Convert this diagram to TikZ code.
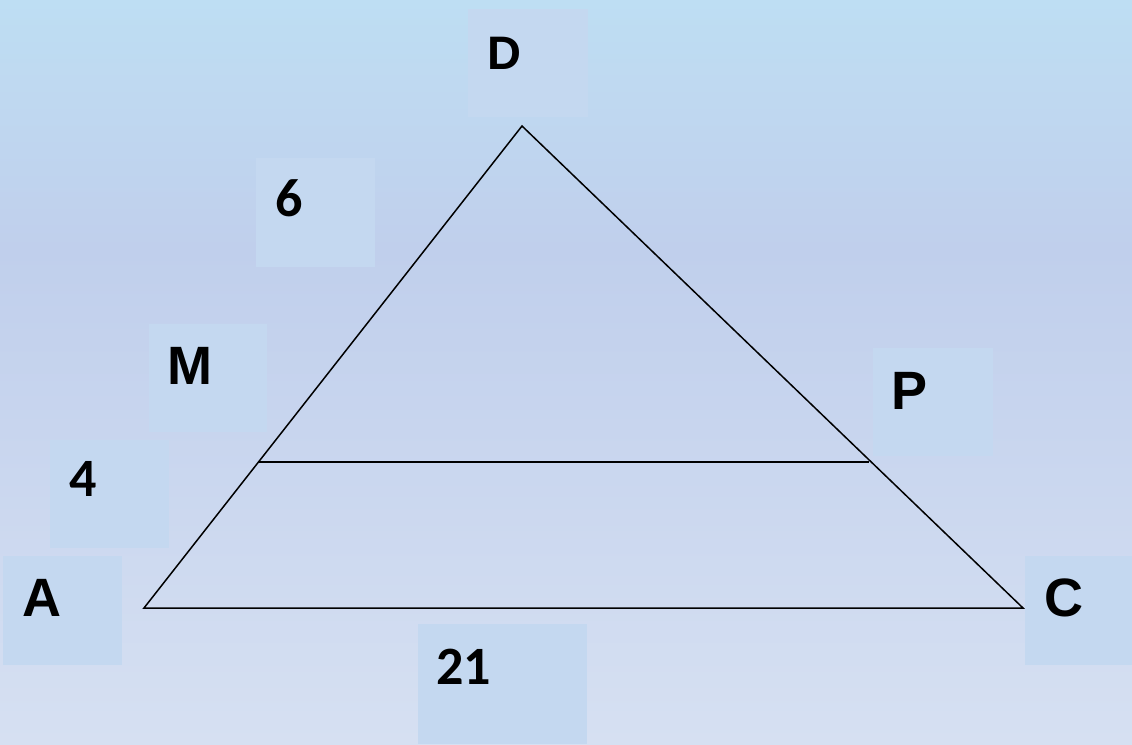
\documentclass[tikz,border=0pt]{standalone}
\usepackage{fontspec}
\newfontfamily\letterfont{Liberation Sans}
\newfontfamily\numfont{Carlito}
\definecolor{bgtop}{RGB}{190,222,243}
\definecolor{bgmid}{RGB}{192,207,236}
\definecolor{bgbot}{RGB}{214,224,242}
\definecolor{boxfill}{RGB}{196,216,240}
\begin{document}
\begin{tikzpicture}[x=1pt,y=-1pt,
  lbox/.style={fill=boxfill,draw=none,inner sep=0pt,anchor=north west},
  lett/.style={font=\letterfont\bfseries\fontsize{54}{54}\selectfont,anchor=base west,inner sep=0pt},
  numb/.style={font=\numfont\bfseries\fontsize{54}{54}\selectfont,anchor=base west,inner sep=0pt},
  edge/.style={draw=black,line width=1.5pt,line join=miter}]
\useasboundingbox (0,0) rectangle (1132,744);
\shade[top color=bgtop,bottom color=bgmid] (0,0) rectangle (1132,250);
\shade[top color=bgmid,bottom color=bgbot] (0,249.5) rectangle (1132,744);
% label boxes
\node[lbox,minimum width=120pt,minimum height=108pt] (bD) at (468,9) {};
\node[lbox,minimum width=119pt,minimum height=109pt] (b6) at (256,158) {};
\node[lbox,minimum width=118pt,minimum height=108pt] (bM) at (149,324) {};
\node[lbox,minimum width=120pt,minimum height=108pt] (bP) at (873,348) {};
\node[lbox,minimum width=119pt,minimum height=108pt] (b4) at (50,440) {};
\node[lbox,minimum width=119pt,minimum height=109pt] (bA) at (3,556) {};
\node[lbox,minimum width=107pt,minimum height=109pt] (bC) at (1025,556) {};
\node[lbox,minimum width=169pt,minimum height=120pt] (b21) at (418,624) {};
% labels
\node[lett,font=\letterfont\bfseries\fontsize{47}{47}\selectfont] (tD) at (487,69) {D};
\node[numb] (t6) at (275,216) {6};
\node[lett] (tM) at (167,384) {M};
\node[lett] (tP) at (891,409) {P};
\node[numb] (t4) at (69,496) {4};
\node[lett] (tA) at (22,616) {A};
\node[lett] (tC) at (1044,616) {C};
\node[numb] (t21) at (436,684) {21};
% triangle
\coordinate (A) at (144,608);
\coordinate (D) at (522,126);
\coordinate (C) at (1023,608);
\coordinate (M) at (259,462);
\coordinate (P) at (869,462);
\draw[edge] (A) -- (D) -- (C) -- cycle;
\draw[edge] (M) -- (P);
\end{tikzpicture}
\end{document}
